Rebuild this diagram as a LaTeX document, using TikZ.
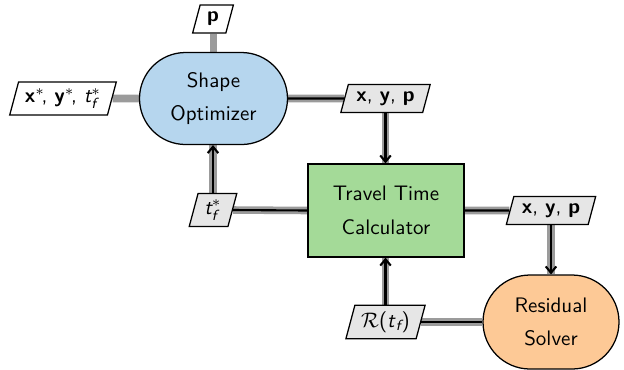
\documentclass[tikz,border=0pt]{standalone}
\usetikzlibrary{shapes.geometric,shapes.misc,arrows.meta,backgrounds}
\renewcommand\familydefault{\sfdefault}
\def\pu{0.476pt}
% sans-serif variables: bold vectors, italic scalars with italic subscripts
\newcommand\vb[1]{\textbf{#1}}
\newcommand\vi[1]{\textit{#1}}
\newcommand\subi[1]{\mbox{\scriptsize\itshape #1}}
\definecolor{optblue}{RGB}{182,214,238}
\definecolor{funcgreen}{RGB}{164,218,152}
\definecolor{solvorange}{RGB}{253,201,150}
\definecolor{datafill}{RGB}{230,230,230}
\definecolor{dataline}{RGB}{155,155,155}
\tikzset{
  comp/.style={draw, line width=0.6pt, align=center, font=\sffamily},
  optbox/.style={comp, rounded rectangle, fill=optblue,
    minimum width=162*\pu, minimum height=92*\pu},
  funcbox/.style={comp, rectangle, fill=funcgreen,
    minimum width=156*\pu, minimum height=93*\pu},
  solvbox/.style={comp, rounded rectangle, fill=solvorange,
    minimum width=150*\pu, minimum height=94*\pu},
  databox/.style={draw, line width=0.6pt, trapezium, trapezium left angle=75,
    trapezium right angle=105, fill=datafill, inner xsep=3pt, inner ysep=3pt,
    minimum height=28*\pu, font=\sffamily},
  iobox/.style={databox, fill=white},
  datapath/.style={draw=dataline, line width=3.6pt},
  procpath/.style={draw=black, line width=1pt},
  procarrow/.style={procpath, -{Straight Barb[length=3pt,width=5pt]}}
}
\begin{document}
\begin{tikzpicture}[x=\pu, y=-\pu]
\useasboundingbox (0,0) rectangle (624,369);

% components
\node[optbox]  (opt) at (213.5,98.5) {Shape\\[4pt]Optimizer};
\node[funcbox] (ttc) at (386,210.5)  {Travel Time\\[4pt]Calculator};
\node[solvbox] (res) at (551,322)    {Residual\\[4pt]Solver};

% data blocks
\node[iobox]   (pin)   at (213,19)    {\vb{p}};
\node[iobox]   (xout)  at (63,98.5)
  {$\mbox{\bfseries x}^{*}\!$, $\mbox{\bfseries y}^{*}\!$, $\mbox{\itshape t}^{*}_{\subi{f}}$};
\node[databox] (xyp1)  at (385.5,98.5) {\vb{x}, \vb{y}, \vb{p}};
\node[databox] (tfs)   at (213,210)   {$\mbox{\itshape t}^{*}_{\subi{f}}$};
\node[databox] (xyp2)  at (551,210.5) {\vb{x}, \vb{y}, \vb{p}};
\node[databox] (resid) at (385.5,322) {$\mathcal{R}$(\vi{t}$_{\subi{f}}$)};

% data connections, behind the blocks
\begin{scope}[on background layer]
  \path[datapath] (opt.north) -- (opt.north |- pin.south);
  \path[datapath] (opt.west) -- (xout.east);
  \path[datapath] (opt.east) -- (xyp1.west);
  \path[datapath] (xyp1.south) -- (xyp1.south |- ttc.north);
  \path[datapath] (ttc.west) -- (tfs.east);
  \path[datapath] (tfs.north) -- (tfs.north |- opt.south);
  \path[datapath] (ttc.east) -- (xyp2.west);
  \path[datapath] (xyp2.south) -- (xyp2.south |- res.north);
  \path[datapath] (res.west) -- (resid.east);
  \path[datapath] (resid.north) -- (resid.north |- ttc.south);
\end{scope}

% process flow
\path[procpath]  (opt.east) -- (xyp1.west);
\path[procarrow] (xyp1.south) -- (xyp1.south |- ttc.north);
\path[procpath]  (ttc.east) -- (xyp2.west);
\path[procarrow] (xyp2.south) -- (xyp2.south |- res.north);
\path[procpath]  (res.west) -- (resid.east);
\path[procarrow] (resid.north) -- (resid.north |- ttc.south);
\path[procpath]  (ttc.west) -- (tfs.east);
\path[procarrow] (tfs.north) -- (tfs.north |- opt.south);
\end{tikzpicture}
\end{document}
